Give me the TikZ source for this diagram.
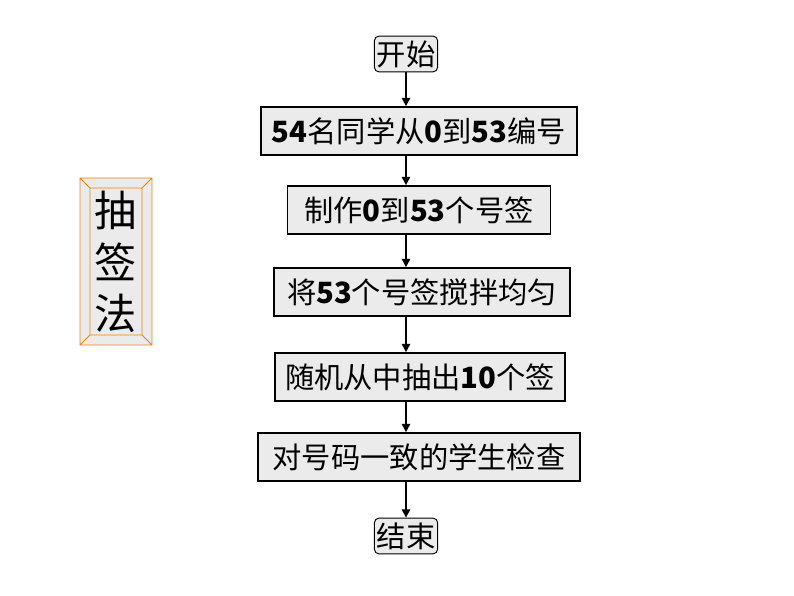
\documentclass[tikz,border=0pt]{standalone}
\usepackage{fontspec}
\setmainfont{Liberation Serif}
\newfontfamily\cjk{Noto Sans CJK SC}
\usetikzlibrary{arrows.meta}
\newcommand{\num}[1]{{\bfseries #1}}
\begin{document}
\begin{tikzpicture}[x=0.03cm, y=-0.03cm]
\tikzset{StepBox/.style = {draw, line width = 1.6pt, fill = black!8!white,
                           minimum height = 48*0.85pt, inner xsep = 4pt,
                           font = \fontsize{25}{28}\selectfont\cjk},
         TermBox/.style = {StepBox, line width = 0.8pt, rounded corners = 4pt,
                           minimum height = 36*0.85pt, inner xsep = 2pt},
         Arr/.style = {-{Triangle[length=7pt, width=7pt]}, line width = 1.6pt}}
\useasboundingbox (0,0) rectangle (794,596);
\node[TermBox] (start) at (406,54) {开始};
\node[StepBox, minimum width = 318*0.85pt] (b1) at (419,131) {\num{54}名同学从\num{0}到\num{53}编号};
\node[StepBox, minimum width = 264*0.85pt] (b2) at (419,210) {制作\num{0}到\num{53}个号签};
\node[StepBox, minimum width = 298*0.85pt] (b3) at (422,292) {将\num{53}个号签搅拌均匀};
\node[StepBox, minimum width = 292*0.85pt] (b4) at (420,377) {随机从中抽出\num{10}个签};
\node[StepBox, minimum width = 323*0.85pt] (b5) at (419,457) {对号码一致的学生检查};
\node[TermBox] (end) at (406,536) {结束};
\draw[Arr] (start.south) -- (start.south |- b1.north);
\draw[Arr] (start.south |- b1.south) -- (start.south |- b2.north);
\draw[Arr] (start.south |- b2.south) -- (start.south |- b3.north);
\draw[Arr] (start.south |- b3.south) -- (start.south |- b4.north);
\draw[Arr] (start.south |- b4.south) -- (start.south |- b5.north);
\draw[Arr] (start.south |- b5.south) -- (end.north);
% beveled frame on the left
\fill[black!8!white] (80,178) rectangle (152,345);
\draw[orange!80!brown, line width = 0.8pt] (80,178) rectangle (152,345)
      (90,188) rectangle (142,335)
      (80,178) -- (90,188) (152,178) -- (142,188)
      (80,345) -- (90,335) (152,345) -- (142,335);
\node[font = \fontsize{36}{44}\selectfont\cjk, align = center] (title) at (116,262) {抽\\签\\法};
\end{tikzpicture}
\end{document}
